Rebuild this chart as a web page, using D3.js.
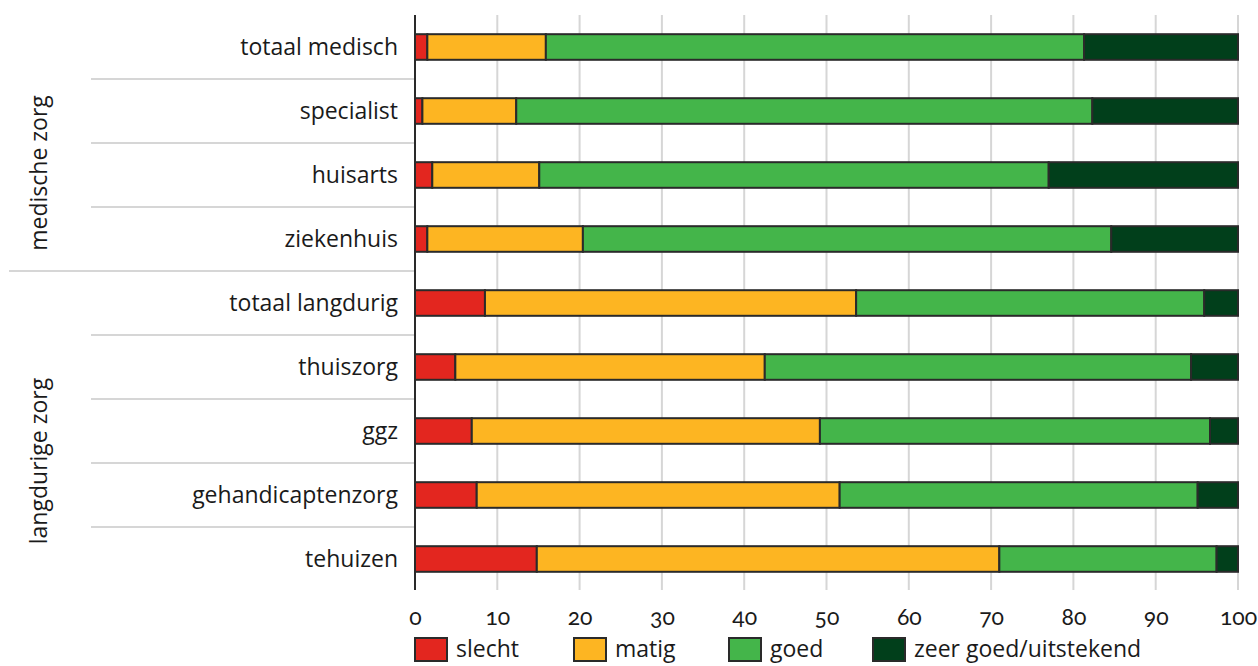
<!DOCTYPE html>
<html>
<head>
<meta charset="utf-8">
<script src="https://cdn.jsdelivr.net/npm/d3@7"></script>
<style>
  html, body { margin: 0; padding: 0; background: #fff; }
  svg text { font-family: "Open Sans", "Noto Sans", sans-serif; fill: #1a1a1a; }
  svg .x-tick text { font-family: "Lato", "Open Sans", sans-serif; font-variant-numeric: oldstyle-nums; font-feature-settings: "onum" 1; }
</style>
</head>
<body>
<svg id="chart" width="1258" height="666"></svg>
<script>
// Oordeel over de zorg per sector (percentages per rij, samen 100)
const categories = ["totaal medisch", "specialist", "huisarts", "ziekenhuis",
  "totaal langdurig", "thuiszorg", "ggz", "gehandicaptenzorg", "tehuizen"];
const seriesNames = ["slecht", "matig", "goed", "zeer goed/uitstekend"];
const slecht = [1.5, 0.9, 2.1, 1.5, 8.5, 4.9, 6.9, 7.5, 14.8];
const matig  = [14.4, 11.4, 13.0, 18.9, 45.1, 37.6, 42.3, 44.1, 56.2];
const goed   = [65.4, 70.0, 61.9, 64.2, 42.3, 51.8, 47.4, 43.5, 26.4];
const zeerGoed = [18.7, 17.7, 23.0, 15.4, 4.1, 5.7, 3.4, 4.9, 2.6];
const groups = [
  { name: "medische zorg", first: "totaal medisch", last: "ziekenhuis" },
  { name: "langdurige zorg", first: "totaal langdurig", last: "tehuizen" }
];
const xTicks = [0, 10, 20, 30, 40, 50, 60, 70, 80, 90, 100];

const colors = ["#e3261f", "#fdb522", "#44b54a", "#013f1b"];

const rows = categories.map((c, i) => ({
  cat: c,
  "slecht": slecht[i],
  "matig": matig[i],
  "goed": goed[i],
  "zeer goed/uitstekend": zeerGoed[i]
}));

const svg = d3.select("#chart");
const plotLeft = 415, plotRight = 1238, plotTop = 15, plotBottom = 591;

const x = d3.scaleLinear().domain([0, 100]).range([plotLeft, plotRight]);
const y = d3.scaleBand().domain(categories).range([plotTop, plotBottom])
  .paddingInner(0.6).paddingOuter(0.3);
const color = d3.scaleOrdinal().domain(seriesNames).range(colors);

// verticale rasterlijnen
svg.append("g")
  .selectAll("line")
  .data(xTicks.filter(t => t > 0))
  .join("line")
  .attr("x1", d => x(d)).attr("x2", d => x(d))
  .attr("y1", plotTop).attr("y2", plotBottom - 1)
  .attr("stroke", "#d6d6d6").attr("stroke-width", 2);

// scheidingslijnen tussen de rijen
const step = y.step();
const boundaries = categories.slice(1).map(c => ({
  y: y(c) - y.paddingOuter() * step,
  groupStart: groups.some(g => g.first === c)
}));
svg.append("g")
  .selectAll("line")
  .data(boundaries)
  .join("line")
  .attr("x1", d => d.groupStart ? 9 : 91)
  .attr("x2", plotLeft)
  .attr("y1", d => d.y).attr("y2", d => d.y)
  .attr("stroke", "#d6d6d6").attr("stroke-width", 2);

// gestapelde balken
const stack = d3.stack().keys(seriesNames);
const stacked = stack(rows);
svg.append("g")
  .selectAll("g")
  .data(stacked)
  .join("g")
  .attr("fill", d => color(d.key))
  .selectAll("rect")
  .data(d => d)
  .join("rect")
  .attr("x", d => x(d[0]))
  .attr("width", d => x(d[1]) - x(d[0]))
  .attr("y", d => y(d.data.cat))
  .attr("height", y.bandwidth())
  .attr("stroke", "#2a2a2a").attr("stroke-width", 2);

// categorie-as
const yAxis = svg.append("g")
  .attr("transform", `translate(${plotLeft},0)`)
  .call(d3.axisLeft(y).tickSize(0).tickPadding(17));
yAxis.select(".domain").remove();
yAxis.selectAll("text").attr("font-size", 23).attr("font-family", null).attr("dy", "0.33em");

// nul-lijn
svg.append("line")
  .attr("x1", x(0)).attr("x2", x(0))
  .attr("y1", plotTop).attr("y2", plotBottom - 1)
  .attr("stroke", "#2a2a2a").attr("stroke-width", 2);

// waarde-as
const xAxis = svg.append("g")
  .attr("class", "x-tick")
  .attr("transform", `translate(0,${plotBottom})`)
  .call(d3.axisBottom(x).tickValues(xTicks).tickSize(0).tickPadding(18).tickFormat(d3.format("d")));
xAxis.select(".domain").remove();
xAxis.selectAll("text").attr("font-size", 23).attr("font-family", null);

// groepslabels
svg.append("g")
  .selectAll("text")
  .data(groups)
  .join("text")
  .attr("transform", d => {
    const y0 = y(d.first) - y.paddingOuter() * step;
    const y1 = y(d.last) + y.bandwidth() + y.paddingOuter() * step;
    return `translate(47,${(y0 + y1) / 2 + 30}) rotate(-90)`;
  })
  .attr("text-anchor", "middle")
  .attr("font-size", 23)
  .text(d => d.name);

// legenda
const legendX = [415, 574, 729, 873];
const legend = svg.append("g")
  .selectAll("g")
  .data(seriesNames)
  .join("g")
  .attr("transform", (d, i) => `translate(${legendX[i]},638)`);
legend.append("rect")
  .attr("width", 32).attr("height", 23)
  .attr("fill", d => color(d))
  .attr("stroke", "#2a2a2a").attr("stroke-width", 2);
legend.append("text")
  .attr("x", 41).attr("y", 19)
  .attr("font-size", 23)
  .text(d => d);
</script>
</body>
</html>
